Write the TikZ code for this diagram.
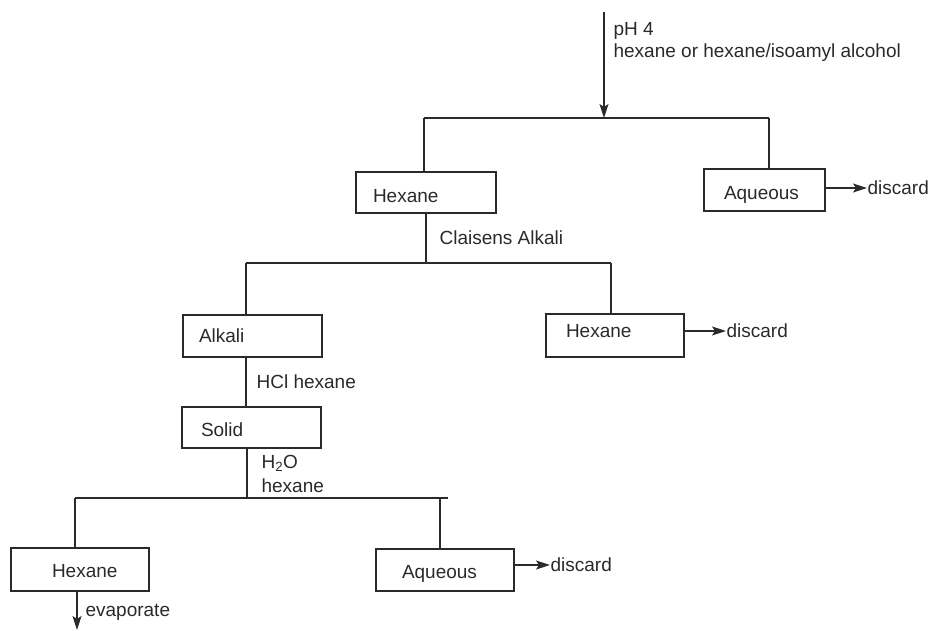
\documentclass[tikz,border=0pt]{standalone}
\usepackage{fontspec}
\setmainfont{Liberation Sans}
\usetikzlibrary{arrows.meta}
\definecolor{ink}{HTML}{2A2A2A}
\begin{document}
\begin{tikzpicture}[x=1pt,y=-1pt,
  line width=1.2pt, draw=ink, text=ink,
  font=\fontsize{19}{23}\selectfont,
  every node/.style={inner sep=0pt},
  boxnode/.style={draw=ink, line width=1.1pt, inner sep=0pt,
    text height=13.6pt, text depth=0pt},
  lbl/.style={anchor=west, text height=13.6pt, text depth=0pt},
  arr/.style={-{Stealth[length=14pt,width=9pt,inset=3pt]}},
]
\useasboundingbox (0,0) rectangle (930,631);

% boxes
\node[boxnode, minimum height=41pt] (b1) at (426,192.5) {\makebox[140pt][l]{\hspace*{17pt}\raisebox{-3.5pt}{Hexane}}};
\node[boxnode, minimum height=42pt] (b2) at (764.5,190) {\makebox[121pt][l]{\hspace*{20pt}\raisebox{-3pt}{Aqueous}}};
\node[boxnode, minimum height=42pt] (b3) at (252.5,336) {\makebox[139pt][l]{\hspace*{16pt}Alkali}};
\node[boxnode, minimum height=43pt] (b4) at (615,335.5) {\makebox[138pt][l]{\hspace*{20pt}\raisebox{5pt}{Hexane}}};
\node[boxnode, minimum height=41pt] (b5) at (251.5,427.5) {\makebox[139pt][l]{\hspace*{19pt}\raisebox{-2.5pt}{Solid}}};
\node[boxnode, minimum height=43pt] (b6) at (80,569.5) {\makebox[138pt][l]{\hspace*{41pt}\raisebox{-1.5pt}{Hexane}}};
\node[boxnode, minimum height=42pt] (b7) at (445,570) {\makebox[138pt][l]{\hspace*{26pt}\raisebox{-1.5pt}{Aqueous}}};

% labels
\node[anchor=west, align=left, font=\fontsize{19}{22}\selectfont] (l0) at (613,42) {pH 4\\hexane or hexane/isoamyl alcohol};
\node[lbl] (l1) at (439,238) {Claisens Alkali};
\node[lbl] (l2) at (256,382) {HCl hexane};
\node[anchor=west, align=left, font=\fontsize{19}{24}\selectfont] (l3) at (261,474) {H\textsubscript{2}O\\hexane};
\node[lbl] (l4) at (85,610) {evaporate};
\node[lbl] (d1) at (867,188) {discard};
\node[lbl] (d2) at (726,331) {discard};
\node[lbl] (d3) at (550,565) {discard};

% junctions
\coordinate (t0) at (604,12);
\coordinate (j1) at (604,118);
\coordinate (j1l) at (424,118);
\coordinate (j1r) at (769,118);
\coordinate (j2) at (426,263);
\coordinate (j2l) at (246,263);
\coordinate (j2r) at (611,263);
\coordinate (j3) at (247,498);
\coordinate (j3l) at (75,498);
\coordinate (j3r) at (448,498);
\coordinate (j3a) at (440,498);
\coordinate (e0) at (77,630);

% connectors
\draw[arr] (t0) -- (j1);
\draw (j1l) -- (j1r);
\draw (j1l) -- (j1l |- b1.north);
\draw (j1r) -- (j1r |- b2.north);
\draw[arr] (b2.east |- d1.west) -- (d1.west);

\draw (j2 |- b1.south) -- (j2);
\draw (j2l) -- (j2r);
\draw (j2l) -- (j2l |- b3.north);
\draw (j2r) -- (j2r |- b4.north);
\draw[arr] (b4.east |- d2.west) -- (d2.west);

\draw (j2l |- b3.south) -- (j2l |- b5.north);

\draw (j3 |- b5.south) -- (j3);
\draw (j3l) -- (j3r);
\draw (j3l) -- (j3l |- b6.north);
\draw (j3a) -- (j3a |- b7.north);
\draw[arr] ([xshift=-2pt]b7.east |- d3.west) -- (d3.west);

\draw[arr] (e0 |- b6.south) -- (e0);
\end{tikzpicture}
\end{document}
